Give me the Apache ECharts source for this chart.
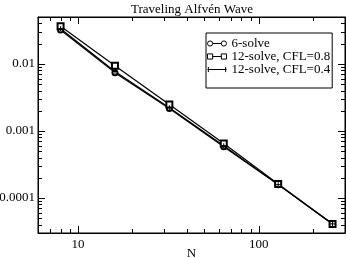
<!DOCTYPE html>
<html><head><meta charset="utf-8">
<script src="https://cdn.jsdelivr.net/npm/echarts@6/dist/echarts.min.js"></script>
<style>html,body{margin:0;padding:0;background:#fff}#c{width:346px;height:258px}</style>
</head><body><div id="c"></div>
<script>
var N = [8, 16, 32, 64, 128, 256];
var solve6 = [0.0320, 0.0074, 0.00215, 0.00058, 0.000158, 0.0000410];
var solve12cfl08 = [0.0365, 0.0094, 0.00247, 0.00065, 0.000162, 0.0000410];
var solve12cfl04 = [0.0335, 0.0077, 0.00222, 0.00060, 0.000158, 0.0000410];
var xMinorTicks = [7, 8, 9, 20, 30, 40, 50, 60, 70, 80, 90, 200, 300];
var yMinorTicks = [4e-5, 5e-5, 6e-5, 7e-5, 8e-5, 9e-5, 2e-4, 3e-4, 4e-4, 5e-4, 6e-4, 7e-4, 8e-4, 9e-4,
                   2e-3, 3e-3, 4e-3, 5e-3, 6e-3, 7e-3, 8e-3, 9e-3, 2e-2, 3e-2, 4e-2];
var xMin = 6, xMax = 300, yMin = 3e-5, yMax = 0.05;

var FONT = 'Liberation Serif';
var plusPath = 'path://M0,5L10,5M5,0L5,10';

function pairs(xs, ys) { return xs.map(function (x, i) { return [x, ys[i]]; }); }

var tickData = xMinorTicks.map(function (v) { return ['x', v]; })
  .concat(yMinorTicks.map(function (v) { return ['y', v]; }));

var chart = echarts.init(document.getElementById('c'), null, {renderer: 'canvas'});
var axisLineStyle = {lineStyle: {color: '#000', width: 1}};
var labelBase = {fontFamily: FONT, fontSize: 13, color: '#000', showMinLabel: false, showMaxLabel: false};
chart.setOption({
  animation: false,
  backgroundColor: '#fff',
  title: {
    text: 'Traveling Alfvén Wave', left: 131, top: 3, padding: 0,
    textStyle: {fontFamily: FONT, fontSize: 13, fontWeight: 'normal', color: '#000'}
  },
  grid: {left: 38, right: 1, top: 17, bottom: 25, show: true, borderColor: '#000', borderWidth: 1,
         containLabel: false, outerBoundsMode: 'none'},
  legend: {
    orient: 'vertical', left: 206, top: 33,
    padding: [4, 2, 12, 1], itemGap: 0,
    borderColor: '#000', borderWidth: 1,
    itemWidth: 19, itemHeight: 6,
    textStyle: {fontFamily: FONT, fontSize: 13, color: '#000', lineHeight: 11},
    itemStyle: {color: '#fff', borderColor: '#000', borderWidth: 1},
    data: [
      {name: '6-solve', icon: 'path://M0,3a3,3 0 1,0 6,0a3,3 0 1,0 -6,0M6,3L16,3M16,3a3,3 0 1,0 6,0a3,3 0 1,0 -6,0'},
      {name: '12-solve, CFL=0.8', icon: 'path://M0,0h6v6h-6zM6,3L16,3M16,0h6v6h-6z'},
      {name: '12-solve, CFL=0.4', icon: 'path://M0,3L22,3M1,0L1,6M21,0L21,6'}
    ]
  },
  xAxis: [{
    type: 'log', logBase: 10, min: xMin, max: xMax,
    name: 'N', nameLocation: 'middle', nameGap: 14, nameMoveOverlap: false,
    nameTextStyle: {fontFamily: FONT, fontSize: 13, color: '#000'},
    axisLine: axisLineStyle,
    axisTick: {inside: true, length: 7, lineStyle: {color: '#000'}},
    axisLabel: Object.assign({margin: 5}, labelBase),
    splitLine: {show: false}
  }, {
    type: 'log', logBase: 10, min: xMin, max: xMax, position: 'top',
    axisLine: axisLineStyle,
    axisTick: {inside: true, length: 7, lineStyle: {color: '#000'}},
    axisLabel: {show: false}, splitLine: {show: false}
  }],
  yAxis: [{
    type: 'log', logBase: 10, min: yMin, max: yMax,
    axisLine: axisLineStyle,
    axisTick: {inside: true, length: 7, lineStyle: {color: '#000'}},
    axisLabel: Object.assign({margin: 3,
      formatter: function (v) { return String(+v.toPrecision(6)); }}, labelBase),
    splitLine: {show: false}
  }, {
    type: 'log', logBase: 10, min: yMin, max: yMax, position: 'right',
    axisLine: axisLineStyle,
    axisTick: {inside: true, length: 7, lineStyle: {color: '#000'}},
    axisLabel: {show: false}, splitLine: {show: false}
  }],
  series: [{
    type: 'custom', name: 'minorTicks', silent: true, z: 1,
    data: tickData.map(function (d) { return d[0] === 'x' ? [d[1], yMin] : [xMin, d[1]]; }),
    renderItem: function (params, api) {
      var d = tickData[params.dataIndex];
      var cs = params.coordSys;
      var len = 4, children = [];
      if (d[0] === 'x') {
        var px = Math.round(api.coord([d[1], yMin])[0]) + 0.5;
        children.push({type: 'line', shape: {x1: px, y1: cs.y + cs.height, x2: px, y2: cs.y + cs.height - len}, style: {stroke: '#000', lineWidth: 1}});
        children.push({type: 'line', shape: {x1: px, y1: cs.y, x2: px, y2: cs.y + len}, style: {stroke: '#000', lineWidth: 1}});
      } else {
        var py = Math.round(api.coord([xMin, d[1]])[1]) + 0.5;
        children.push({type: 'line', shape: {x1: cs.x, y1: py, x2: cs.x + len, y2: py}, style: {stroke: '#000', lineWidth: 1}});
        children.push({type: 'line', shape: {x1: cs.x + cs.width, y1: py, x2: cs.x + cs.width - len, y2: py}, style: {stroke: '#000', lineWidth: 1}});
      }
      return {type: 'group', children: children};
    }
  }, {
    type: 'line', name: '6-solve', data: pairs(N, solve6),
    symbol: 'emptyCircle', symbolSize: 5,
    lineStyle: {color: '#000', width: 1.2}, itemStyle: {color: '#000', borderWidth: 1}
  }, {
    type: 'line', name: '12-solve, CFL=0.8', data: pairs(N, solve12cfl08),
    symbol: 'emptyRect', symbolSize: 6,
    lineStyle: {color: '#000', width: 1.2}, itemStyle: {color: '#000', borderWidth: 1}
  }, {
    type: 'line', name: '12-solve, CFL=0.4', data: pairs(N, solve12cfl04),
    symbol: plusPath, symbolSize: 5,
    lineStyle: {color: '#000', width: 1.2}, itemStyle: {color: '#000', borderColor: '#000', borderWidth: 1}
  }]
});
</script></body></html>
